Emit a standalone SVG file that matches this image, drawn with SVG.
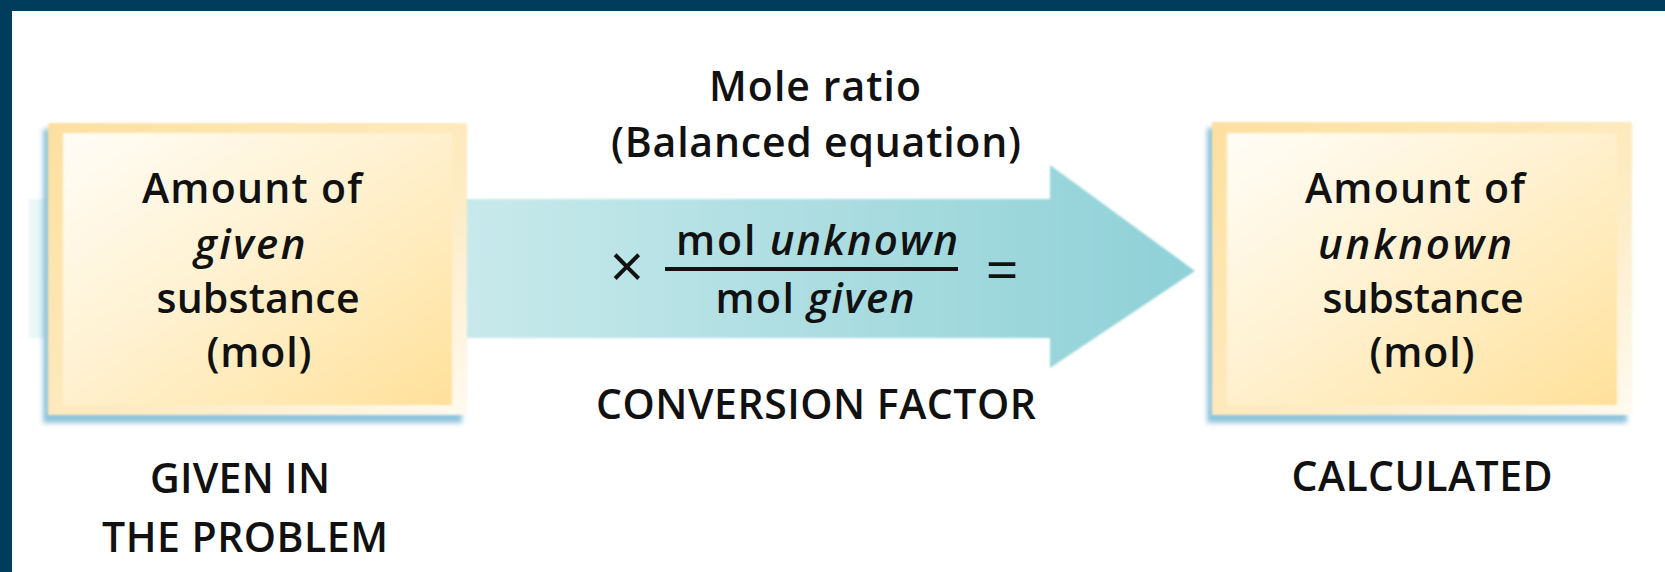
<svg xmlns="http://www.w3.org/2000/svg" width="1665" height="572" viewBox="0 0 1665 572">
<style>
  text { font-family: "Open Sans", "Noto Sans", "DejaVu Sans", sans-serif; fill: #111; text-anchor: middle; font-weight: 600; }
  .t { font-size: 41px; }
  .it { font-style: italic; font-size: 42px; }
</style>
<defs>
  <linearGradient id="frame" x1="0" y1="0" x2="1" y2="1">
    <stop offset="0" stop-color="#fde0a0"/>
    <stop offset="0.6" stop-color="#fdebc2"/>
    <stop offset="1" stop-color="#fffaf0"/>
  </linearGradient>
  <linearGradient id="fill" x1="0" y1="0" x2="1" y2="1">
    <stop offset="0" stop-color="#fffdf7"/>
    <stop offset="0.45" stop-color="#fff2d2"/>
    <stop offset="1" stop-color="#ffe09a"/>
  </linearGradient>
  <linearGradient id="shaft" gradientUnits="userSpaceOnUse" x1="28" y1="0" x2="1195" y2="0">
    <stop offset="0" stop-color="#f1f9fa"/>
    <stop offset="0.02" stop-color="#d8eff1"/>
    <stop offset="0.4" stop-color="#c6e8ea"/>
    <stop offset="1" stop-color="#8ed1d7"/>
  </linearGradient>
  <filter id="blur" x="-10%" y="-10%" width="120%" height="120%">
    <feGaussianBlur stdDeviation="2.5"/>
  </filter>
  <filter id="soft" x="-5%" y="-5%" width="110%" height="110%">
    <feGaussianBlur stdDeviation="0.8"/>
  </filter>
</defs>

<rect x="0" y="0" width="1665" height="572" fill="#ffffff"/>
<rect x="0" y="0" width="1665" height="11" fill="#003d5c"/>
<rect x="0" y="0" width="12" height="572" fill="#003d5c"/>

<g id="connectors">
  <path id="arrow" d="M28,199 L1050,199 L1050,165 L1195,271 L1050,368 L1050,338 L28,338 Z" fill="url(#shaft)" filter="url(#soft)"/>
</g>

<g id="given-box">
  <rect x="43" y="129" width="419" height="294" fill="#90c4dc" filter="url(#blur)"/>
  <rect x="48" y="123" width="419" height="292" fill="url(#frame)" filter="url(#soft)"/>
  <rect x="63" y="133" width="389" height="272" fill="url(#fill)" filter="url(#soft)"/>
  <text class="t" x="252" y="203" textLength="220" lengthAdjust="spacing">Amount of</text>
  <text class="t it" x="250" y="259" textLength="111" lengthAdjust="spacing">given</text>
  <text class="t" x="258" y="313" textLength="203" lengthAdjust="spacing">substance</text>
  <text class="t" x="259" y="367" textLength="105" lengthAdjust="spacing">(mol)</text>
</g>

<g id="unknown-box">
  <rect x="1207" y="128" width="420" height="295" fill="#90c4dc" filter="url(#blur)"/>
  <rect x="1212" y="122" width="420" height="293" fill="url(#frame)" filter="url(#soft)"/>
  <rect x="1227" y="133" width="390" height="272" fill="url(#fill)" filter="url(#soft)"/>
  <text class="t" x="1415" y="203" textLength="220" lengthAdjust="spacing">Amount of</text>
  <text class="t it" x="1415" y="259" textLength="194" lengthAdjust="spacing">unknown</text>
  <text class="t" x="1423" y="313" textLength="201" lengthAdjust="spacing">substance</text>
  <text class="t" x="1422" y="367" textLength="105" lengthAdjust="spacing">(mol)</text>
</g>

<g id="mole-ratio">
  <text class="t" x="815" y="101" textLength="212" lengthAdjust="spacing">Mole ratio</text>
  <text class="t" x="816" y="157" textLength="410" lengthAdjust="spacing">(Balanced equation)</text>
</g>

<g id="conversion-factor">
  <text x="627" y="288" style="font-size:60px;font-weight:400">×</text>
  <text class="t" x="817" y="255" textLength="282" lengthAdjust="spacing">mol <tspan class="it">unknown</tspan></text>
  <rect x="665" y="267" width="293" height="4" fill="#111"/>
  <text class="t" x="815" y="313" textLength="199" lengthAdjust="spacing">mol <tspan class="it">given</tspan></text>
  <text x="1002" y="291" style="font-size:58px;font-weight:400">=</text>
  <text class="t" x="816" y="419" textLength="440" lengthAdjust="spacing">CONVERSION FACTOR</text>
</g>

<g id="labels">
  <text class="t" x="240" y="493" textLength="180" lengthAdjust="spacing">GIVEN IN</text>
  <text class="t" x="245" y="552" textLength="286" lengthAdjust="spacing">THE PROBLEM</text>
  <text class="t" x="1422" y="491" textLength="261" lengthAdjust="spacing">CALCULATED</text>
</g>
</svg>
